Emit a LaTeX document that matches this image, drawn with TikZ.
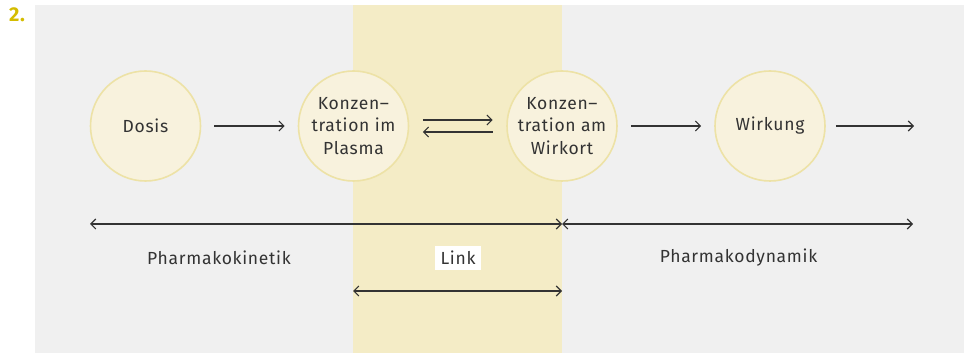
\documentclass[tikz,border=0pt]{standalone}
\usepackage{fontspec}
\setmainfont[LetterSpace=4]{Fira Sans}
\usetikzlibrary{arrows.meta}
\definecolor{bggray}{HTML}{F0F0F0}
\definecolor{band}{HTML}{F4ECC6}
\definecolor{circfill}{HTML}{F8F2DD}
\definecolor{circline}{HTML}{EDE2A6}
\definecolor{ink}{HTML}{333333}
\definecolor{numcol}{HTML}{D4BC00}
\tikzset{
  stage/.style={circle, draw=circline, fill=circfill, line width=1.6pt, minimum size=110pt, inner sep=0pt, align=center, text=ink, font=\fontsize{17.5}{22.5}\selectfont},
  flow/.style={draw=ink, line width=1.1pt, -{Straight Barb[length=5pt,width=10pt]}},
  span/.style={draw=ink, line width=1.1pt, {Straight Barb[length=5pt,width=10pt]}-{Straight Barb[length=5pt,width=10pt]}},
  lab/.style={text=ink, font=\fontsize{17.5}{20}\selectfont}
}
\begin{document}
\begin{tikzpicture}[x=1pt,y=1pt]
\useasboundingbox (0,0) rectangle (968,353);
\fill[bggray] (35,0) rectangle (964,348);
\fill[band] (353,0) rectangle (562,348);
\node[text=numcol, font=\bfseries\fontsize{20}{22}\selectfont] (num) at (17,338) {2.};
\node[stage] (dosis) at (145.5,227) {Dosis};
\node[stage] (plasma) at (353.5,227) {Konzen–\\tration im\\Plasma};
\node[stage] (wirkort) at (562,227) {Konzen–\\tration am\\Wirkort};
\node[stage] (wirkung) at (770,227) {Wirkung};
\coordinate (out) at (914,227);
\draw[flow, shorten <=13pt, shorten >=13pt] (dosis.east) -- (plasma.west);
\draw[flow] ([xshift=13.5pt,yshift=6pt]plasma.east) -- ([xshift=-13.5pt,yshift=6pt]wirkort.west);
\draw[flow] ([xshift=-13.5pt,yshift=-6pt]wirkort.west) -- ([xshift=13.5pt,yshift=-6pt]plasma.east);
\draw[flow, shorten <=13pt, shorten >=13pt] (wirkort.east) -- (wirkung.west);
\draw[flow, shorten <=10pt] (wirkung.east) -- (out);
\coordinate (pkL) at (90,129);
\coordinate (mid) at (562,129);
\coordinate (pdR) at (913,129);
\coordinate (lkL) at (353,62);
\coordinate (lkR) at (562,62);
\draw[span] (pkL) -- (mid);
\draw[span] (mid) -- (pdR);
\draw[span] (lkL) -- (lkR);
\node[lab] (pk) at (219,95) {Pharmakokinetik};
\node[lab, fill=white, inner xsep=6pt, inner ysep=5pt] (link) at (458,95) {Link};
\node[lab] (pd) at (738.5,95) {Pharmakodynamik};
\end{tikzpicture}
\end{document}
